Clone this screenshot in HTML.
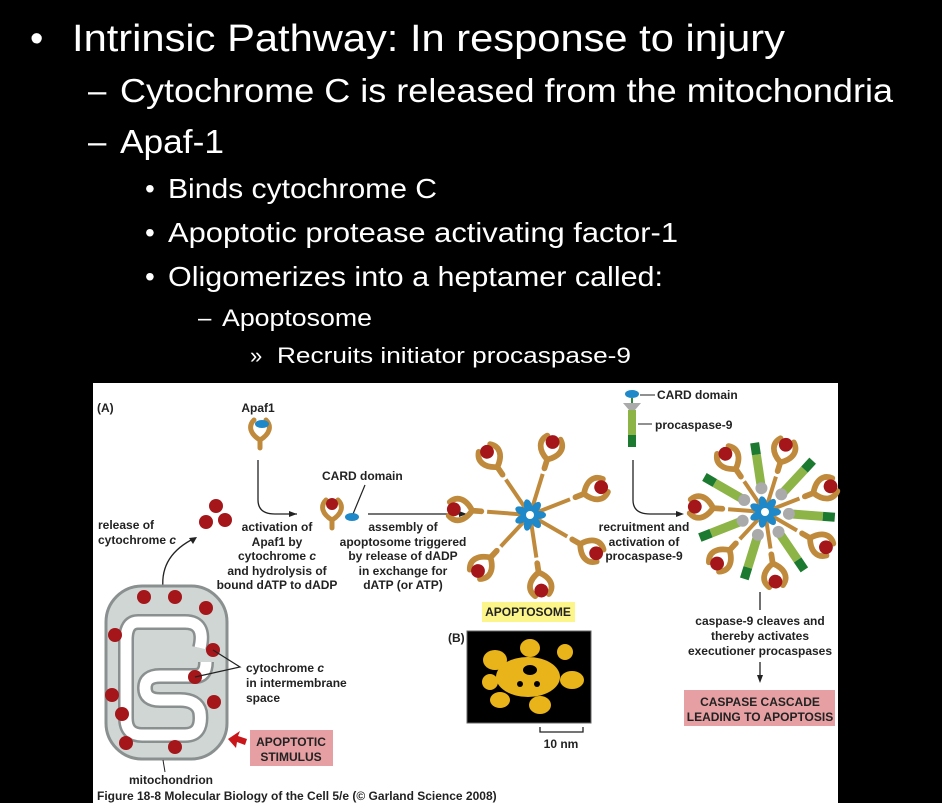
<!DOCTYPE html>
<html><head><meta charset="utf-8"><style>
html,body{margin:0;padding:0;background:#000;}
svg{display:block;}
.s{font-family:"Liberation Sans",sans-serif;fill:#fff;}
.f{font-family:"Liberation Sans",sans-serif;font-weight:bold;fill:#222;font-size:12px;}
</style></head><body>
<svg width="942" height="803" viewBox="0 0 942 803">
<rect width="942" height="803" fill="#000"/>
<g class="s">
<text x="30" y="51" font-size="38">•</text>
<text x="72" y="51" font-size="38" textLength="713" lengthAdjust="spacingAndGlyphs">Intrinsic Pathway: In response to injury</text>
<text x="88" y="102" font-size="33">–</text>
<text x="120" y="102" font-size="33" textLength="773" lengthAdjust="spacingAndGlyphs">Cytochrome C is released from the mitochondria</text>
<text x="88" y="153" font-size="33">–</text>
<text x="120" y="153" font-size="33" textLength="104" lengthAdjust="spacingAndGlyphs">Apaf-1</text>
<text x="145" y="198" font-size="28">•</text>
<text x="168" y="198" font-size="28" textLength="269" lengthAdjust="spacingAndGlyphs">Binds cytochrome C</text>
<text x="145" y="242" font-size="28">•</text>
<text x="168" y="242" font-size="28" textLength="510" lengthAdjust="spacingAndGlyphs">Apoptotic protease activating factor-1</text>
<text x="145" y="286" font-size="28">•</text>
<text x="168" y="286" font-size="28" textLength="495" lengthAdjust="spacingAndGlyphs">Oligomerizes into a heptamer called:</text>
<text x="198" y="326" font-size="24">–</text>
<text x="222" y="326" font-size="24" textLength="150" lengthAdjust="spacingAndGlyphs">Apoptosome</text>
<text x="250" y="363" font-size="22">»</text>
<text x="277" y="363" font-size="22" textLength="354" lengthAdjust="spacingAndGlyphs">Recruits initiator procaspase-9</text>
</g>

<g>
<rect x="93" y="383" width="745" height="420" fill="#fff"/>
<text class="f" x="97" y="412" font-size="11">(A)</text>
<text class="f" x="258" y="412" text-anchor="middle">Apaf1</text>
<g id="apafTop"></g>
<path d="M258,460 V500 Q258,514 275,514 H297" stroke="#222" stroke-width="1.3" fill="none"/>
<path d="M297,514 l-8,-3 v6z" fill="#222"/>
<text class="f" x="98" y="529">release of</text>
<text class="f" x="98" y="544">cytochrome <tspan font-style="italic">c</tspan></text>
<circle cx="216" cy="506" r="7" fill="#a4161a"/><circle cx="206" cy="522" r="7" fill="#a4161a"/><circle cx="225" cy="520" r="7" fill="#a4161a"/>
<path d="M163,588 Q160,555 195,538" stroke="#222" stroke-width="1.3" fill="none"/>
<path d="M197,537 l-8,1 l4,6z" fill="#222"/>
<g class="f" text-anchor="middle">
<text x="277" y="531">activation of</text><text x="277" y="546">Apaf1 by</text><text x="277" y="560">cytochrome <tspan font-style="italic">c</tspan></text><text x="277" y="575">and hydrolysis of</text><text x="277" y="589">bound dATP to dADP</text>
<text x="403" y="531">assembly of</text><text x="403" y="546">apoptosome triggered</text><text x="403" y="560">by release of dADP</text><text x="403" y="575">in exchange for</text><text x="403" y="589">dATP (or ATP)</text>
<text x="644" y="531">recruitment and</text><text x="644" y="546">activation of</text><text x="644" y="560">procaspase-9</text>
<text x="760" y="625">caspase-9 cleaves and</text><text x="760" y="640">thereby activates</text><text x="760" y="655">executioner procaspases</text>
</g>
<text class="f" x="322" y="480">CARD domain</text>
<line x1="365" y1="485" x2="353" y2="514" stroke="#222" stroke-width="1.2"/>
<g id="apafMid"></g>
<line x1="368" y1="514" x2="460" y2="514" stroke="#222" stroke-width="1.3"/><path d="M467,514 l-8,-3 v6z" fill="#222"/>
<g id="wheel1"></g>
<path d="M633,460 V500 Q633,514 650,514 H677" stroke="#222" stroke-width="1.3" fill="none"/><path d="M684,514 l-8,-3 v6z" fill="#222"/>
<ellipse cx="632" cy="394" rx="7" ry="4" fill="#1e88c8"/>
<line x1="632" y1="398" x2="632" y2="403" stroke="#2a8a3a" stroke-width="2"/>
<path d="M623,403 H641 L635,410 H629z" fill="#aaa"/>
<rect x="628" y="410" width="8" height="25" fill="#8db446"/><rect x="628" y="435" width="8" height="12" fill="#1c7a30"/>
<line x1="640" y1="395" x2="655" y2="395" stroke="#222"/><line x1="638" y1="424" x2="652" y2="424" stroke="#222"/>
<text class="f" x="657" y="399">CARD domain</text><text class="f" x="655" y="429">procaspase-9</text>
<g id="wheel2"></g>
<line x1="760" y1="592" x2="760" y2="610" stroke="#222" stroke-width="1.3"/>
<line x1="760" y1="662" x2="760" y2="676" stroke="#222" stroke-width="1.3"/><path d="M760,683 l-3,-8 h6z" fill="#222"/>
<rect x="684" y="690" width="151" height="36" fill="#e6a0a3"/>
<text class="f" x="760" y="706" text-anchor="middle">CASPASE CASCADE</text><text class="f" x="760" y="721" text-anchor="middle">LEADING TO APOPTOSIS</text>
<rect x="482" y="602" width="93" height="20" fill="#fbf58a"/>
<text class="f" x="528" y="616" text-anchor="middle">APOPTOSOME</text>
<text class="f" x="448" y="642" font-size="11">(B)</text>
<rect x="467" y="631" width="124" height="92" fill="#000" stroke="#666"/>
<g fill="#e8b419">
<ellipse cx="528" cy="677" rx="32" ry="20"/><ellipse cx="495" cy="660" rx="12" ry="10"/><ellipse cx="530" cy="648" rx="10" ry="9"/><ellipse cx="565" cy="652" rx="8" ry="8"/><ellipse cx="572" cy="680" rx="12" ry="9"/><ellipse cx="500" cy="700" rx="10" ry="8"/><ellipse cx="540" cy="705" rx="11" ry="9"/><ellipse cx="490" cy="682" rx="8" ry="8"/>
</g>
<g fill="#000"><ellipse cx="530" cy="670" rx="7" ry="5"/><circle cx="520" cy="684" r="3"/><circle cx="537" cy="684" r="3"/></g>
<path d="M540,727 V732 H583 V727" stroke="#222" fill="none" stroke-width="1.3"/>
<text class="f" x="561" y="748" text-anchor="middle">10 nm</text>
<rect x="106" y="586" width="121" height="173" rx="36" fill="#cfd6d4" stroke="#8a908f" stroke-width="3"/>
<path d="M200,648 Q206,622 185,622 H138 Q126,622 126,640 V718 Q126,735 142,735 H185 Q203,735 200,712 Q197,700 180,700 H160 Q145,700 145,688 Q145,676 160,676 H195 Q206,676 206,662" stroke="#8a908f" stroke-width="16" fill="none" stroke-linejoin="round"/>
<path d="M200,648 Q206,622 185,622 H138 Q126,622 126,640 V718 Q126,735 142,735 H185 Q203,735 200,712 Q197,700 180,700 H160 Q145,700 145,688 Q145,676 160,676 H195 Q206,676 206,662" stroke="#fff" stroke-width="11" fill="none" stroke-linejoin="round"/>
<g fill="#a4161a">
<circle cx="144" cy="597" r="7"/><circle cx="175" cy="597" r="7"/><circle cx="206" cy="608" r="7"/><circle cx="115" cy="635" r="7"/><circle cx="213" cy="650" r="7"/><circle cx="195" cy="677" r="7"/><circle cx="112" cy="695" r="7"/><circle cx="122" cy="714" r="7"/><circle cx="214" cy="702" r="7"/><circle cx="126" cy="743" r="7"/><circle cx="175" cy="747" r="7"/>
</g>
<path d="M213,650 L240,667 L195,677" stroke="#222" fill="none" stroke-width="1.2"/>
<text class="f" x="246" y="672">cytochrome <tspan font-style="italic">c</tspan></text><text class="f" x="246" y="687">in intermembrane</text><text class="f" x="246" y="702">space</text>
<line x1="163" y1="760" x2="165" y2="772" stroke="#222"/>
<text class="f" x="171" y="784" text-anchor="middle">mitochondrion</text>
<path d="M228,739 L240,731 L238,736 L247,739 L245,745 L237,742 L236,748z" fill="#c8161a"/>
<rect x="250" y="730" width="83" height="36" fill="#e6a0a3"/>
<text class="f" x="291" y="746" text-anchor="middle">APOPTOTIC</text><text class="f" x="291" y="761" text-anchor="middle">STIMULUS</text>
<text class="f" x="97" y="800" font-size="9">Figure 18-8 Molecular Biology of the Cell 5/e (© Garland Science 2008)</text>
</g>
</svg>
<script>
const NS='http://www.w3.org/2000/svg';
function el(p,t,a){const e=document.createElementNS(NS,t);for(const k in a)e.setAttribute(k,a[k]);p.appendChild(e);return e;}
function apaf(g,x,y,ang,cyto,s){
  const G=el(g,'g',{transform:`translate(${x},${y}) rotate(${ang}) scale(${s})`});
  el(G,'path',{d:'M0,0 C-10,-6 -12,-14 -6,-20 M0,0 C10,-6 12,-14 6,-20 M0,0 V8',stroke:'#c08a3c','stroke-width':5,fill:'none','stroke-linecap':'round'});
  if(cyto)el(G,'circle',{cx:0,cy:-16,r:6,fill:'#a4161a'});
}
apaf(document.getElementById('apafTop'),260,440,0,false,1);
el(document.getElementById('apafTop'),'ellipse',{cx:262,cy:424,rx:7,ry:4,fill:'#1e88c8'});
const m=document.getElementById('apafMid');
apaf(m,332,520,0,true,1);
el(m,'ellipse',{cx:352,cy:517,rx:7,ry:4,fill:'#1e88c8'});
function wheel(id,cx,cy,R,casp){
  const g=document.getElementById(id);
  if(casp){for(let i=0;i<7;i++){const b=i*2*Math.PI/7-Math.PI/2+0.3+Math.PI/7;
      el(g,'line',{x1:cx+Math.cos(b)*22,y1:cy+Math.sin(b)*22,x2:cx+Math.cos(b)*58,y2:cy+Math.sin(b)*58,stroke:'#8db446','stroke-width':9});
      el(g,'line',{x1:cx+Math.cos(b)*58,y1:cy+Math.sin(b)*58,x2:cx+Math.cos(b)*70,y2:cy+Math.sin(b)*70,stroke:'#1c7a30','stroke-width':9});
      el(g,'circle',{cx:cx+Math.cos(b)*24,cy:cy+Math.sin(b)*24,r:6,fill:'#aaa'});}}
  for(let i=0;i<7;i++){
    const a=i*2*Math.PI/7-Math.PI/2+0.3;
    const x=cx+Math.cos(a)*R, y=cy+Math.sin(a)*R;
    el(g,'line',{x1:cx,y1:cy,x2:cx+Math.cos(a)*(R-15),y2:cy+Math.sin(a)*(R-15),stroke:'#c08a3c','stroke-width':4});
    apaf(g,x,y,a*180/Math.PI+90,true,1.15);
  }
  for(let i=0;i<7;i++){const a=i*2*Math.PI/7;
    el(g,'ellipse',{cx:cx+Math.cos(a)*9,cy:cy+Math.sin(a)*9,rx:7,ry:4,fill:'#1e88c8',transform:`rotate(${a*180/Math.PI} ${cx+Math.cos(a)*9} ${cy+Math.sin(a)*9})`});}
  el(g,'circle',{cx:cx,cy:cy,r:4,fill:'#fff'});
}
wheel('wheel1',530,515,58,false);
wheel('wheel2',765,512,52,true);
</script>
</body></html>
